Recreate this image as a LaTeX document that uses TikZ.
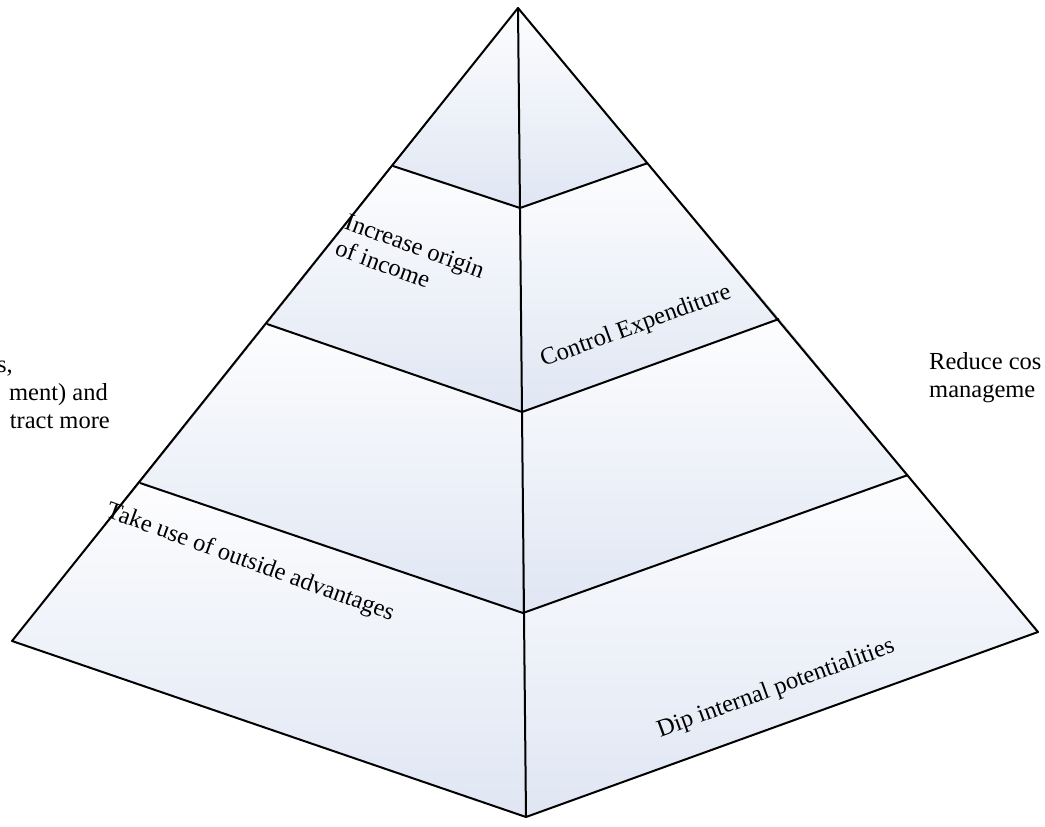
\documentclass[tikz,border=0pt]{standalone}
\usepackage{fontspec}
\setmainfont{Liberation Serif}
\usetikzlibrary{positioning}
\definecolor{facetop}{RGB}{253,253,254}
\definecolor{facebot}{RGB}{223,230,243}
\begin{document}
\begin{tikzpicture}[x=1pt,y=-1pt,
        face/.style={top color=facetop, bottom color=facebot, draw=none},
        edge/.style={line width=2pt, line join=round},
        lbl/.style={font=\fontsize{24.5}{28}\selectfont, inner sep=0pt, align=left}]
        \useasboundingbox (0,0) rectangle (1045,827);
        \coordinate (A) at (518,8);
        \coordinate (L1) at (393,166);
        \coordinate (C1) at (520,208);
        \coordinate (R1) at (648,163);
        \coordinate (L2) at (267,324);
        \coordinate (C2) at (522,412);
        \coordinate (R2) at (779,319);
        \coordinate (L3) at (140,483);
        \coordinate (C3) at (523,613);
        \coordinate (R3) at (908,475);
        \coordinate (L4) at (12,641);
        \coordinate (C4) at (526,817);
        \coordinate (R4) at (1038,632);

        \fill[face] (A) -- (L1) -- (C1) -- cycle;
        \fill[face] (A) -- (C1) -- (R1) -- cycle;
        \foreach \i/\j in {1/2, 2/3, 3/4} {
            \fill[face] (L\i) -- (C\i) -- (C\j) -- (L\j) -- cycle;
            \fill[face] (C\i) -- (R\i) -- (R\j) -- (C\j) -- cycle;
        }
        \draw[edge] (A) -- (L4) -- (C4) -- (R4) -- cycle;
        \draw[edge] (A) -- (C4);
        \foreach \i in {1,2,3}
            \draw[edge] (L\i) -- (C\i) -- (R\i);

        \node[lbl, rotate=-20] (income) at (410,259) {Increase origin\\of income};
        \node[lbl, rotate=20] (expend) at (636,327) {Control Expenditure};
        \node[lbl, rotate=-20] (outside) at (250,563) {Take use of outside advantages};
        \node[lbl, rotate=20] (internal) at (776,689) {Dip internal potentialities};

        \node[lbl, anchor=base east] (leftA) at (13,372) {s,};
        \node[lbl, anchor=base east] (leftB) at (108,400) {ment) and};
        \node[lbl, anchor=base east] (leftC) at (110,428) {tract more};
        \node[lbl, anchor=base west] (rightA) at (929,369) {Reduce cos};
        \node[lbl, anchor=base west] (rightB) at (929,397) {manageme};
\end{tikzpicture}
\end{document}
